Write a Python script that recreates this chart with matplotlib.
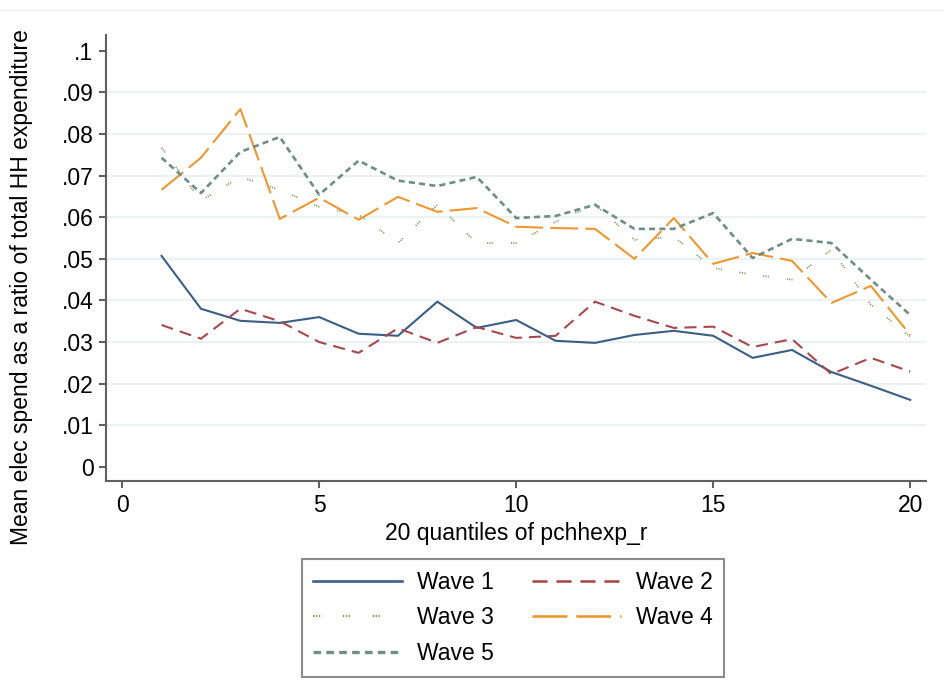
import matplotlib
matplotlib.use("Agg")
import matplotlib.pyplot as plt
from matplotlib.lines import Line2D

plt.rcParams['font.family'] = ['Liberation Sans', 'DejaVu Sans']

quantiles = list(range(1, 21))
wave1 = [.0507, .0380, .0351, .0346, .0360, .0320, .0315, .0397, .0334, .0353,
         .0303, .0298, .0317, .0327, .0315, .0262, .0281, .0228, .0195, .0161]
wave2 = [.0341, .0308, .0380, .0350, .0300, .0274, .0333, .0298, .0336, .0310,
         .0315, .0397, .0363, .0334, .0337, .0288, .0307, .0223, .0262, .0229]
wave3 = [.0767, .0640, .0697, .0666, .0625, .0606, .0538, .0630, .0538, .0538,
         .0589, .0630, .0546, .0553, .0478, .0462, .0450, .0522, .0390, .0313]
wave4 = [.0666, .0743, .0860, .0596, .0647, .0594, .0649, .0613, .0622, .0577,
         .0574, .0572, .0500, .0598, .0488, .0514, .0495, .0394, .0435, .0317]
wave5 = [.0743, .0658, .0757, .0793, .0654, .0736, .0688, .0675, .0697, .0598,
         .0603, .0630, .0572, .0572, .0610, .0502, .0548, .0538, .0450, .0365]

series = [
    ("Wave 1", wave1, "#3a5e86", 1.5, "-"),
    ("Wave 2", wave2, "#a8474f", 1.5, (0, (5.8, 3.4))),
    ("Wave 3", wave3, "#7b9a52", 1.3, (0, (0.6, 0.7, 0.6, 0.7, 0.6, 10))),
    ("Wave 4", wave4, "#ee9630", 1.5, (0, (13.4, 3.4))),
    ("Wave 5", wave5, "#6e8e84", 1.9, (0, (2.3, 1.6))),
]

yticks = [0, .01, .02, .03, .04, .05, .06, .07, .08, .09, .1]
ytick_labels = ["0", ".01", ".02", ".03", ".04", ".05", ".06", ".07", ".08", ".09", ".1"]
xticks = [0, 5, 10, 15, 20]

fs = 16.5

fig = plt.figure(figsize=(9.45, 7), dpi=100)
ax = fig.add_axes([106 / 945, 1 - 481 / 700, 820 / 945, 446 / 700])

for y in yticks[1:-1]:
    ax.axhline(y, color="#eaf2f2", lw=1.5, zorder=0)

handles = {}
for name, vals, col, lw, ls in series:
    h, = ax.plot(quantiles, vals, color=col, lw=lw, linestyle=ls, label=name)
    handles[name] = h

ax.set_xlim(-0.41, 20.4)
ax.set_ylim(-0.0034, 0.1038)
ax.set_xticks(xticks)
ax.set_yticks(yticks)
ax.set_yticklabels(ytick_labels)

for s in ["top", "right"]:
    ax.spines[s].set_visible(False)
for s in ["left", "bottom"]:
    ax.spines[s].set_color("#606060")
    ax.spines[s].set_linewidth(1.5)
ax.tick_params(direction="out", length=5, width=1.5, color="#606060",
               labelsize=fs, pad=4)

ax.set_xlabel("20 quantiles of pchhexp_r", fontsize=fs, labelpad=4)
fig.text(22 / 945, 1 - 287 / 700, "Mean elec spend as a ratio of total HH expenditure",
         rotation=90, ha="center", va="center", fontsize=fs)

order = ["Wave 1", "Wave 3", "Wave 5", "Wave 2", "Wave 4"]
leg = fig.legend([handles[n] for n in order], order, ncol=2,
                 loc="center", bbox_to_anchor=(513 / 945, 1 - 618 / 700),
                 fontsize=fs, handlelength=3.9, handletextpad=0.65,
                 columnspacing=1.65, labelspacing=0.55, borderpad=0.5,
                 fancybox=False, frameon=True)
leg.get_frame().set_edgecolor("#707070")
leg.get_frame().set_linewidth(1.5)
for line in leg.get_lines():
    line.set_linewidth(line.get_linewidth() * 1.25)

fig.add_artist(Line2D([0, 1], [1 - 10 / 700, 1 - 10 / 700], color="#efefef", lw=1))

fig.savefig("out.png", dpi=100)
